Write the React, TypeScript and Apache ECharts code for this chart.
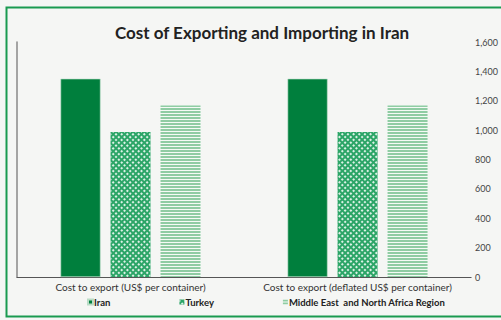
import React, { useEffect, useRef } from "react";
import * as echarts from "echarts";

const categories = [
  "Cost to export (US$ per container)",
  "Cost to export (deflated US$ per container)",
];
const seriesNames = ["Iran", "Turkey", "Middle East  and North Africa Region"];
const iranValues = [1350, 1350];
const turkeyValues = [987, 987];
const menaValues = [1167, 1167];
const yTicks = { min: 0, max: 1600, interval: 200 };

export default function App() {
  const ref = useRef<HTMLDivElement>(null);
  useEffect(() => {
    if (!ref.current) return;
    const chart = echarts.init(ref.current, null, { renderer: "svg" });
    const font = "Lato, 'Open Sans', sans-serif";
    chart.setOption({
      animation: false,
      backgroundColor: "#f5f6f4",
      title: {
        text: "Cost of Exporting and Importing in Iran",
        left: 257,
        textAlign: "center",
        top: 19,
        textStyle: { fontFamily: font, fontWeight: "bold", fontSize: 17, color: "#222" },
      },
      graphic: [
        {
          type: "rect",
          shape: { x: 6.5, y: 7.5, width: 500, height: 309 },
          style: { fill: "none", stroke: "#1a9a50", lineWidth: 2 },
          silent: true,
        },
      ],
      legend: {
        bottom: 8,
        left: 82,
        icon: "rect",
        itemWidth: 5,
        itemHeight: 5,
        itemGap: 69,
        textStyle: { fontFamily: font, fontWeight: "bold", fontSize: 9.5, color: "#222", padding: [0, 0, 0, -4] },
        data: seriesNames,
      },
      grid: { left: 17, right: 28, top: 42, bottom: 43 },
      xAxis: {
        type: "category",
        data: categories,
        axisLine: { lineStyle: { color: "#555", width: 1.2 } },
        axisTick: { show: false },
        axisLabel: { interval: 0, fontFamily: font, fontSize: 10, color: "#333", margin: 5 },
      },
      yAxis: [
        {
          type: "value",
          position: "right",
          min: yTicks.min,
          max: yTicks.max,
          interval: yTicks.interval,
          splitLine: { show: false },
          axisLine: { show: false },
          axisTick: { show: false },
          axisLabel: {
            fontFamily: font,
            fontSize: 9,
            color: "#444",
            margin: 4,
            formatter: (v: number) => v.toLocaleString("en-US"),
          },
        },
        {
          type: "value",
          position: "left",
          min: yTicks.min,
          max: yTicks.max,
          interval: yTicks.interval,
          splitLine: { show: false },
          axisLine: { show: true, lineStyle: { color: "#888", width: 1.5 } },
          axisTick: { show: false },
          axisLabel: { show: false },
        },
      ],
      series: [
        {
          name: seriesNames[0],
          type: "bar",
          data: iranValues,
          barWidth: 40,
          barGap: "25%",
          itemStyle: { color: "#007f3d", borderColor: "#b9dcc6", borderWidth: 0.6 },
        },
        {
          name: seriesNames[1],
          type: "bar",
          data: turkeyValues,
          barWidth: 40,
          itemStyle: {
            color: "#2ca567",
            decal: {
              symbol: "rect",
              symbolSize: 1,
              color: "rgba(240,250,244,0.9)",
              dashArrayX: [2, 2],
              dashArrayY: [2, 2],
              rotation: 0.785,
            },
          },
        },
        {
          name: seriesNames[2],
          type: "bar",
          data: menaValues,
          barWidth: 40,
          itemStyle: {
            color: "#f4faf5",
            decal: {
              symbol: "rect",
              symbolSize: 1,
              color: "#8fcca3",
              dashArrayX: [[1, 0]],
              dashArrayY: [2, 1],
              rotation: 0,
            },
          },
        },
      ],
    });
    return () => chart.dispose();
  }, []);
  return (
    <div
      ref={ref}
      style={{ position: "fixed", left: 0, top: 0, width: 501, height: 320 }}
    />
  );
}
